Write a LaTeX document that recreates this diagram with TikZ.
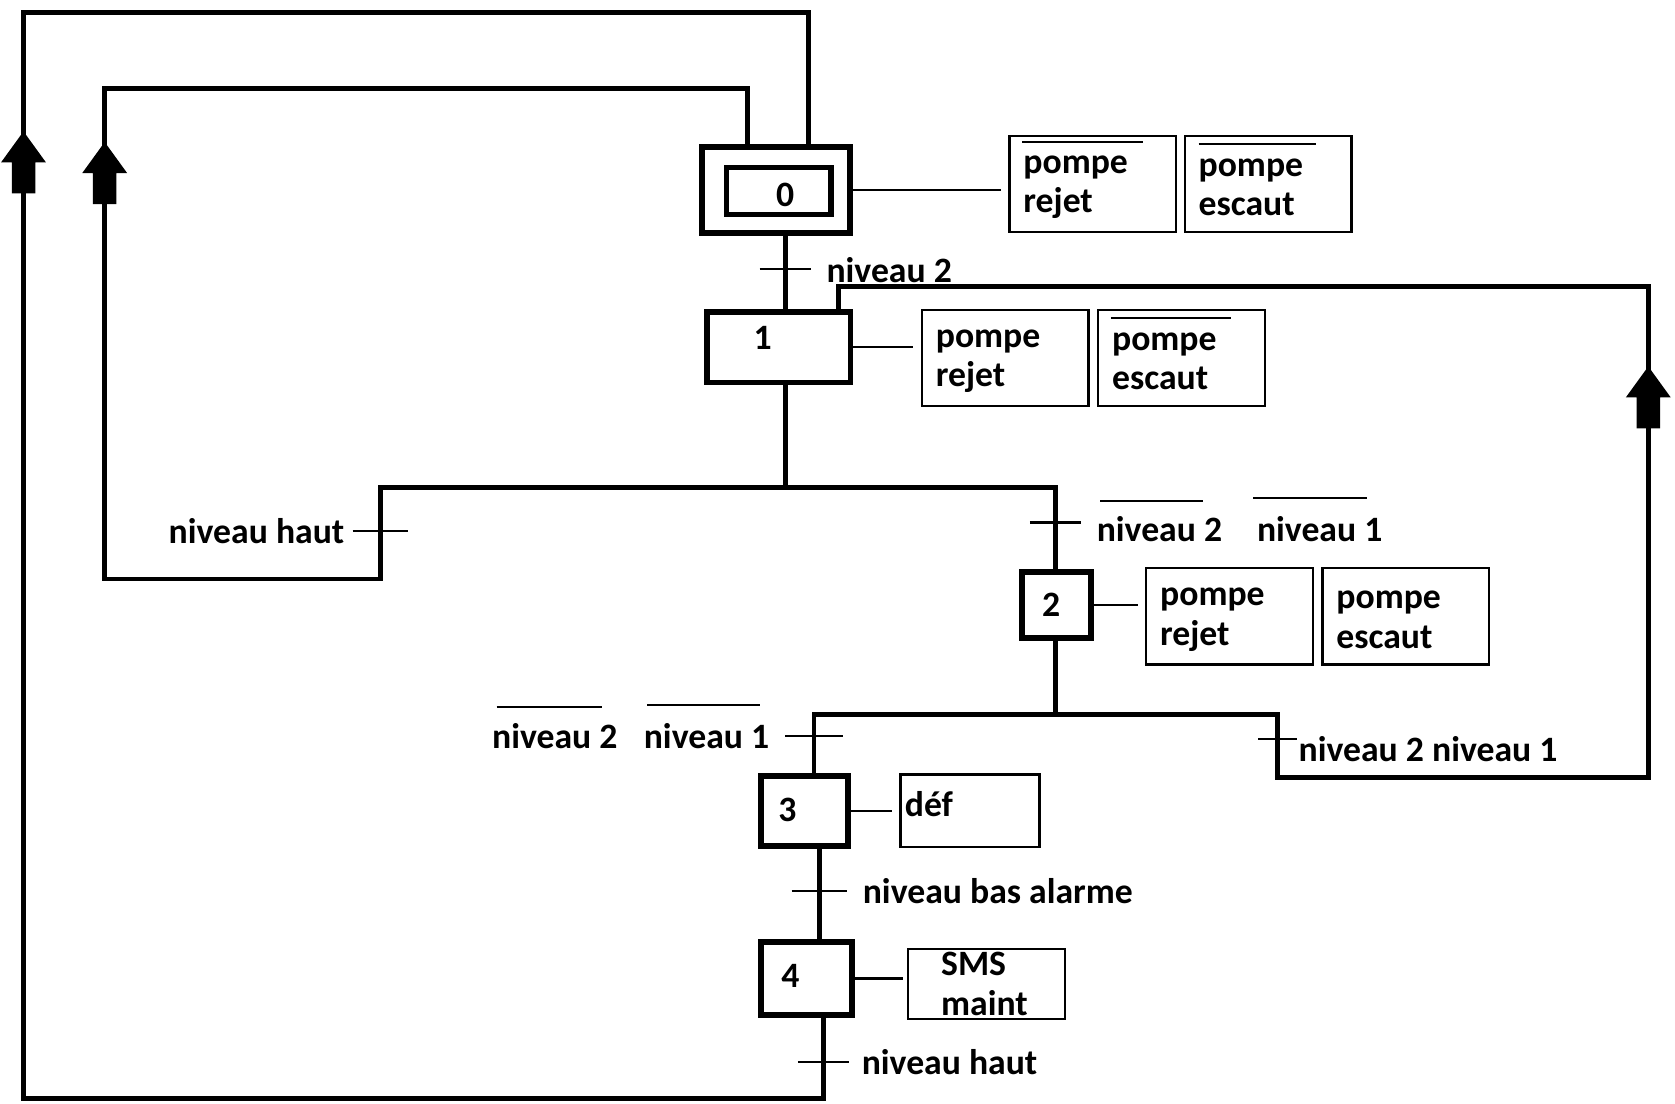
\documentclass[tikz,border=0pt]{standalone}
\usepackage{fontspec}
\setmainfont{Carlito}
\usetikzlibrary{calc}
\newlength{\gu}\setlength{\gu}{0.01cm}
\tikzstyle{etape}=[rectangle, draw, line width=1.6pt, inner sep=0pt]
\tikzstyle{actionbox}=[rectangle, draw, line width=0.6pt, align=left, inner xsep=13\gu, inner ysep=0pt, text width=130\gu, text height=6.5pt, minimum height=90\gu, anchor=north west]
\tikzstyle{lien}=[line width=1.3pt]
\tikzstyle{fin}=[line width=0.6pt]
\tikzstyle{recept}=[inner sep=0pt]
\newcommand{\etape}{\node[etape]}
\newcommand{\recept}[2][24]{\draw[fin] ($(#2)+(-#1,0)$) -- ($(#2)+(#1,0)$);}
\newcommand{\fleche}[1]{\fill (#1) -- ++(-21,29) -- ++(10,0) -- ++(0,29) -- ++(22,0) -- ++(0,-29) -- ++(10,0) -- cycle;}

\begin{document}
\begin{tikzpicture}[x=\gu, y=-\gu, font=\fontsize{9.5}{10.5}\selectfont\bfseries]
\useasboundingbox (0,0) rectangle (1568,1033);
\etape (s0) at (726.5,178) [minimum width=139\gu, minimum height=80\gu] {};
\etape (s0in) at (729,179) [line width=1.4pt, minimum width=98\gu, minimum height=44\gu] {};
\etape (s1) at (729,325) [line width=1.5pt, minimum width=134\gu, minimum height=66\gu] {};
\etape (s2) at (989,566) [minimum width=64\gu, minimum height=62\gu] {};
\etape (s3) at (753,759) [minimum width=82\gu, minimum height=66\gu] {};
\etape (s4) at (755,916) [minimum width=86\gu, minimum height=68\gu] {};
\node (n0) at (735,182) {0};
\node (n1) at (714,316) {1};
\node (n2) at (984,566) {2};
\node (n3) at (737,758) {3};
\node (n4) at (740,914) {4};

\node[actionbox] (a0r) at (944,126) {pompe\\rejet};
\node[actionbox] (a0e) at (1108,126) {pompe\\escaut};
\node[actionbox] (a1r) at (862,289) {pompe\\rejet};
\node[actionbox] (a1e) at (1027,289) {pompe\\escaut};
\node[actionbox] (a2r) at (1072,531) {pompe\\rejet};
\node[actionbox] (a2e) at (1237,531) {pompe\\escaut};
\node[actionbox, inner xsep=4\gu, text width=122\gu, text height=, text depth=13\gu, minimum height=68\gu] (a3) at (842,724) {déf};
\node[actionbox, inner xsep=31\gu, text width=85\gu, text height=, minimum height=66\gu] (a4) at (849,887) {SMS\\maint};
\draw[fin] ($(a0r.north west)+(13,7)$) -- ++(113,0);
\draw[fin] ($(a0e.north west)+(14,9)$) -- ++(110,0);
\draw[fin] ($(a1e.north west)+(13,9)$) -- ++(112,0);
\draw[fin, shorten >=7\gu] (s0) -- (s0 -| a0r.west);
\draw[fin, shorten >=7\gu] (s1) -- (s1 -| a1r.west);
\draw[fin, shorten >=7\gu] (s2) -- (s2 -| a2r.west);
\draw[fin, shorten >=7\gu] (s3) -- (s3 -| a3.west);
\draw[fin, shorten >=4\gu] (s4) -- (s4 -| a4.west);

\coordinate (t01) at (735,252);
\coordinate (div1) at (735,456);
\coordinate (tb) at (356,497);
\coordinate (t12) at (988,489);
\coordinate (div2) at (988,669);
\coordinate (t23) at (762,689);
\coordinate (t21) at (1196,692);
\coordinate (t34) at (767,834);
\coordinate (t40) at (771,994);
\coordinate (ra) at (98,542);
\coordinate (rb) at (700,83);
\coordinate (rc) at (22,1028);
\coordinate (rd) at (757,12);
\coordinate (re) at (1543,728);
\coordinate (rf) at (785,268);
\coordinate (fa) at (98,133);
\coordinate (fb) at (22,123);
\coordinate (fc) at (1543,343);

\draw[lien] (s0.south -| t01) -- (s1.north -| t01);
\draw[lien] (s1.south -| t01) -- (div1);
\draw[lien] (div1) -| (t12) -- (s2.north -| t12);
\draw[lien] (div1) -| (tb) |- (ra) |- (rb) -- (s0.north -| rb);
\draw[lien] (s2.south -| div2) -- (div2);
\draw[lien] (div2) -| (t23) -- (s3.north -| t23);
\draw[lien] (div2) -| (t21) |- (re) |- (rf) -- (s1.north -| rf);
\draw[lien] (s3.south -| t34) -- (s4.north -| t34);
\draw[lien] (s4.south -| t40) -- (t40) |- (rc) |- (rd) -- (s0.north -| rd);
\fleche{fa}
\fleche{fb}
\fleche{fc}

\recept{t01}
\recept[26]{tb}
\recept{t12}
\recept[27]{t23}
\recept[18]{t21}
\recept[26]{t34}
\recept{t40}
\node[recept, anchor=west] (l01) at (773,253) {niveau 2};
\node[recept, anchor=east] (lb) at (323,497) {niveau haut};
\node[recept, anchor=west] (l12a) at (1026,495) {niveau 2};
\node[recept, anchor=west] (l12b) at (1176,495) {niveau 1};
\node[recept, anchor=west] (l23a) at (460,689) {niveau 2};
\node[recept, anchor=west] (l23b) at (602,689) {niveau 1};
\node[recept, anchor=west] (l21) at (1215,701) {niveau 2 niveau 1};
\node[recept, anchor=west] (l34) at (807,834) {niveau bas alarme};
\node[recept, anchor=west] (l40) at (806,994) {niveau haut};
\draw[fin] ($(l12a.west)+(4,-26)$) -- ++(96,0);
\draw[fin] ($(l12b.west)+(-3,-29)$) -- ++(107,0);
\draw[fin] ($(l23a.west)+(5,-27)$) -- ++(99,0);
\draw[fin] ($(l23b.west)+(4,-29)$) -- ++(105,0);
\end{tikzpicture}
\end{document}
